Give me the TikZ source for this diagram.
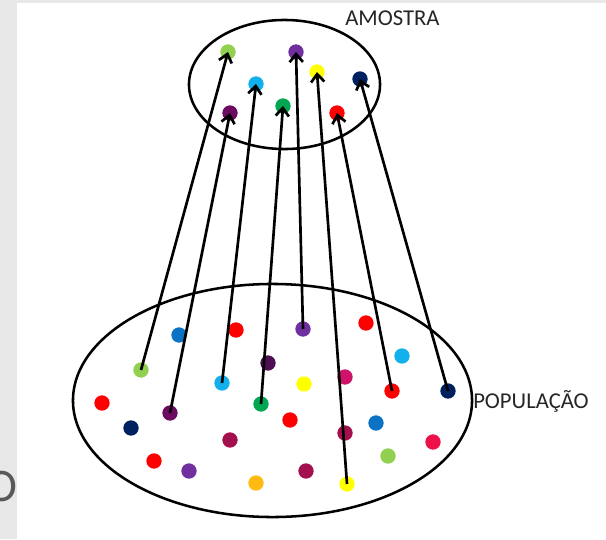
\documentclass[tikz,border=0pt]{standalone}
\usepackage{fontspec}
\setmainfont{Carlito}
\usepackage{tikz}
\usetikzlibrary{arrows.meta,shapes.geometric}
\definecolor{dotlime}{HTML}{92D050}
\definecolor{dotblue}{HTML}{0B72C4}
\definecolor{dotred}{HTML}{FF0000}
\definecolor{dotviolet}{HTML}{7030A0}
\definecolor{dotcyan}{HTML}{12B0EC}
\definecolor{dotdark}{HTML}{4E0E52}
\definecolor{dotplum}{HTML}{6C0A62}
\definecolor{dotyellow}{HTML}{FFFF00}
\definecolor{dotmagenta}{HTML}{D0136A}
\definecolor{dotnavy}{HTML}{002060}
\definecolor{dotgreen}{HTML}{00A651}
\definecolor{dotcrimson}{HTML}{A3104E}
\definecolor{dotrose}{HTML}{EE1048}
\definecolor{dotorange}{HTML}{FFBB11}
\definecolor{framegray}{HTML}{E8E8E8}

\begin{document}
\begin{tikzpicture}[x=0.75pt,y=-0.75pt,
  dot/.style={circle,fill=#1,minimum size=11.5pt,inner sep=0pt},
  pick/.style={line width=2pt,-{Straight Barb[length=6pt,width=10pt,line width=2pt]}},
  ring/.style={ellipse,draw,line width=1.9pt,inner sep=0pt},
  tag/.style={anchor=base west,inner sep=0pt,text=black!85,font=\fontsize{17}{20}\selectfont}]
  \useasboundingbox (0,0) rectangle (606,539);
  \fill[white] (0,0) rectangle (606,539);
  \fill[framegray] (0,0) rectangle (17,539);
  \fill[framegray] (0,0) rectangle (606,3);
  \node[anchor=east,inner sep=0pt,text=black!65,font=\fontsize{35}{40}\selectfont] (cutoff) at (18,487) {O};

  % sample and population
  \node[ring,minimum width=143.3pt,minimum height=96.8pt] (amostra) at (284.5,84.5) {};
  \node[ring,minimum width=299.3pt,minimum height=174.8pt] (populacao) at (272.5,400.5) {};
  \node[tag] (amostratxt) at (345,26) {AMOSTRA};
  \node[tag] (populacaotxt) at (473,408) {POPULAÇÃO};

  \node[dot=dotlime] (b1) at (141,370) {};
  \node[dot=dotblue] (b2) at (179,335) {};
  \node[dot=dotred] (b3) at (236,330) {};
  \node[dot=dotviolet] (b4) at (303,329) {};
  \node[dot=dotred] (b5) at (366,323) {};
  \node[dot=dotcyan] (b6) at (402,356) {};
  \node[dot=dotdark] (b7) at (268,363) {};
  \node[dot=dotcyan] (b8) at (222,383) {};
  \node[dot=dotyellow] (b9) at (304,384) {};
  \node[dot=dotmagenta] (b10) at (345,377) {};
  \node[dot=dotred] (b11) at (392,391) {};
  \node[dot=dotnavy] (b12) at (448,391) {};
  \node[dot=dotred] (b13) at (102,403) {};
  \node[dot=dotplum] (b14) at (170,413) {};
  \node[dot=dotgreen] (b15) at (261,404) {};
  \node[dot=dotred] (b16) at (290,420) {};
  \node[dot=dotnavy] (b17) at (131,428) {};
  \node[dot=dotcrimson] (b18) at (230,440) {};
  \node[dot=dotcrimson] (b19) at (345,433) {};
  \node[dot=dotblue] (b20) at (376,423) {};
  \node[dot=dotrose] (b21) at (433,442) {};
  \node[dot=dotred] (b22) at (154,461) {};
  \node[dot=dotviolet] (b23) at (189,471) {};
  \node[dot=dotorange] (b24) at (256,483) {};
  \node[dot=dotcrimson] (b25) at (306,471) {};
  \node[dot=dotlime] (b26) at (388,456) {};
  \node[dot=dotyellow] (b27) at (347,484) {};

  \node[dot=dotlime] (s1) at (228,52) {};
  \node[dot=dotviolet] (s2) at (296,52) {};
  \node[dot=dotyellow] (s3) at (317,72) {};
  \node[dot=dotnavy] (s4) at (360,79) {};
  \node[dot=dotcyan] (s5) at (256,84) {};
  \node[dot=dotgreen] (s6) at (283,106) {};
  \node[dot=dotplum] (s7) at (230,113) {};
  \node[dot=dotred] (s8) at (337,113) {};

  \foreach \from/\to in {b1/s1,b14/s7,b8/s5,b15/s6,b4/s2,b27/s3,b11/s8,b12/s4}
    \draw[pick] (\from.center) -- (\to.center);
\end{tikzpicture}
\end{document}
